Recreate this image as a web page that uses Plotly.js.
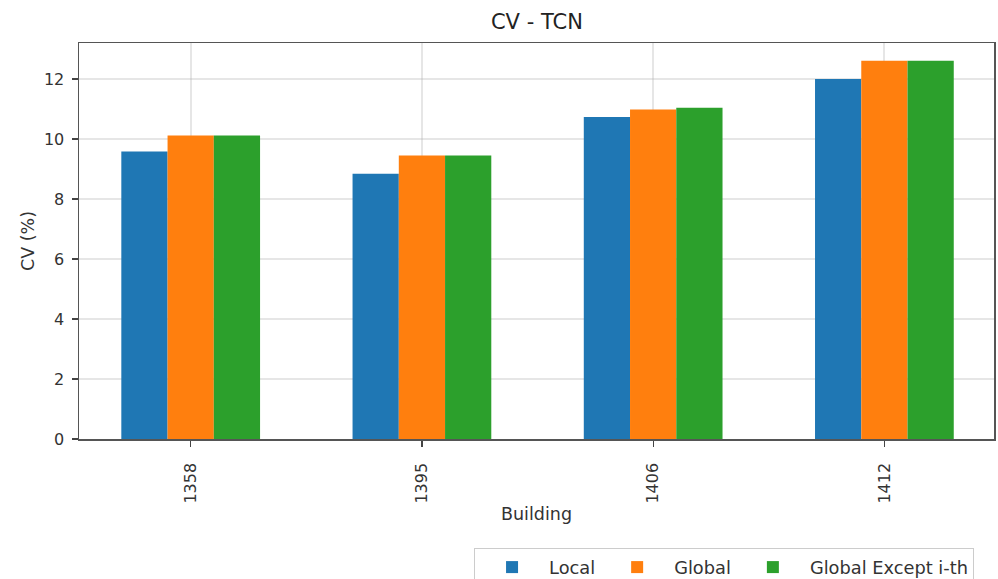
<!DOCTYPE html>
<html>
<head>
<meta charset="utf-8">
<script src="https://cdn.plot.ly/plotly-3.0.1.min.js"></script>
<style>html,body{margin:0;padding:0;background:#fff;}#chart{width:998px;height:579px;}</style>
</head>
<body>
<div id="chart"></div>
<script>
const buildings = ["1358", "1395", "1406", "1412"];
const seriesNames = ["Local", "Global", "Global Except i-th"];
const localCV = [9.58, 8.84, 10.73, 12.0];
const globalCV = [10.12, 9.45, 10.98, 12.61];
const globalExceptCV = [10.12, 9.45, 11.04, 12.61];
const colors = ["#1f77b4", "#ff7f0e", "#2ca02c"];
const yTicks = [0, 2, 4, 6, 8, 10, 12];

const xPos = buildings.map((b, i) => i);
const allSeries = [localCV, globalCV, globalExceptCV];
const traces = allSeries.map((vals, k) => ({
  type: "bar",
  name: seriesNames[k],
  x: xPos,
  y: vals,
  marker: {color: colors[k], line: {width: 0}},
  hoverinfo: "skip"
}));

const FAM = "DejaVu Sans, sans-serif";
const layout = {
  width: 998, height: 579,
  margin: {l: 79, r: 4, t: 43, b: 140, autoexpand: false},
  paper_bgcolor: "#fff", plot_bgcolor: "#fff",
  font: {family: FAM, size: 16, color: "#333"},
  barmode: "group",
  bargap: 0.4,
  bargroupgap: 0,
  title: {text: "CV - TCN", x: 0.538, xanchor: "center", y: 0.962, yanchor: "middle",
          font: {family: FAM, size: 21, color: "#222"}},
  xaxis: {
    range: [-0.483, 3.474],
    tickmode: "array", tickvals: xPos, ticktext: buildings,
    tickangle: -90,
    tickfont: {family: FAM, size: 16, color: "#333"},
    ticks: "outside", ticklen: 6, tickcolor: "#444", tickwidth: 1.3,
    ticklabelstandoff: 10,
    showgrid: true, gridcolor: "rgba(180,180,180,0.33)", gridwidth: 2,
    showline: true, linecolor: "#555", linewidth: 1.5, mirror: true,
    zeroline: false,
    layer: "above traces",
    title: {text: "Building", standoff: 5, font: {family: FAM, size: 17.5, color: "#333"}}
  },
  yaxis: {
    range: [0, 13.2],
    tickmode: "array", tickvals: yTicks,
    tickfont: {family: FAM, size: 16, color: "#333"},
    ticks: "outside", ticklen: 6, tickcolor: "#444", tickwidth: 1.3,
    ticklabelstandoff: 4,
    showgrid: true, gridcolor: "rgba(180,180,180,0.33)", gridwidth: 2,
    showline: true, linecolor: "#555", linewidth: 1.5, mirror: true,
    zeroline: false,
    layer: "above traces",
    title: {text: "CV (%)", standoff: 5, font: {family: FAM, size: 17.5, color: "#333"}}
  },
  legend: {
    orientation: "h",
    xref: "container", yref: "container",
    x: 0.475, xanchor: "left",
    y: 0.0535, yanchor: "top",
    bordercolor: "#ccc", borderwidth: 1,
    bgcolor: "#fff",
    font: {family: FAM, size: 17.8, color: "#333"},
    itemwidth: 64,
    traceorder: "normal"
  },
  showlegend: true
};

Plotly.newPlot("chart", traces, layout, {displayModeBar: false, staticPlot: true});
</script>
</body>
</html>
